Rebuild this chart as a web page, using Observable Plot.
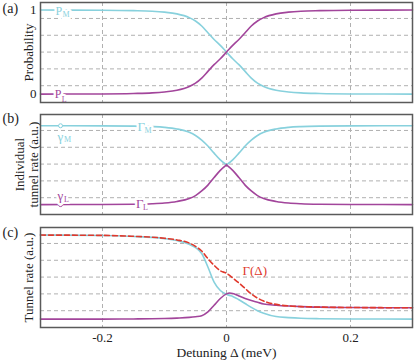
<!DOCTYPE html>
<html>
<head>
<meta charset="utf-8">
<script src="https://cdn.jsdelivr.net/npm/d3@7"></script>
<script src="https://cdn.jsdelivr.net/npm/@observablehq/plot@0.6"></script>
<style>
  html, body { margin: 0; padding: 0; background: #fff; }
  #chart { position: relative; width: 415px; height: 361px; overflow: hidden; }
  .panel { position: absolute; left: 0; }
  #chart svg, #chart svg text { font-family: "Liberation Serif", "Times New Roman", serif !important; }
</style>
</head>
<body>
<div id="chart"></div>
<script>
// ---------- data ----------
const detuning = [-0.3,-0.2,-0.15,-0.12,-0.1,-0.08,-0.06,-0.05,-0.04,-0.03,-0.02,-0.01,0,0.01,0.02,0.03,0.04,0.05,0.06,0.08,0.1,0.12,0.15,0.2,0.3];
// (a) probabilities
const probM = [1.0,0.998,0.993,0.986,0.975,0.955,0.91,0.87,0.81,0.73,0.65,0.58,0.5,0.42,0.35,0.27,0.19,0.13,0.09,0.045,0.025,0.014,0.007,0.002,0.0];
const probL = [0.0,0.002,0.007,0.014,0.025,0.045,0.09,0.13,0.19,0.27,0.35,0.42,0.5,0.58,0.65,0.73,0.81,0.87,0.91,0.955,0.975,0.986,0.993,0.998,1.0];
// (b) individual tunnel rates
const rateM = [0.956,0.955,0.952,0.946,0.937,0.918,0.878,0.84,0.785,0.715,0.63,0.55,0.49,0.55,0.63,0.715,0.785,0.84,0.878,0.918,0.937,0.946,0.952,0.955,0.956];
const rateL = [0.018,0.019,0.022,0.028,0.037,0.055,0.09,0.125,0.18,0.25,0.34,0.425,0.49,0.425,0.34,0.25,0.18,0.125,0.09,0.055,0.037,0.028,0.022,0.019,0.018];
// (c) tunnel rates
const detuningC = [-0.3,-0.2,-0.15,-0.12,-0.1,-0.08,-0.06,-0.05,-0.04,-0.03,-0.02,-0.01,0,0.005,0.01,0.02,0.03,0.04,0.05,0.06,0.08,0.1,0.12,0.15,0.2,0.3];
const tunnelM = [1.0,0.995,0.983,0.972,0.958,0.935,0.89,0.85,0.78,0.62,0.44,0.34,0.295,0.282,0.27,0.23,0.185,0.14,0.1,0.07,0.03,0.018,0.01,0.005,0.002,0.0];
const tunnelL = [0.0,0.0,0.002,0.004,0.007,0.012,0.02,0.028,0.04,0.085,0.165,0.245,0.3,0.31,0.305,0.275,0.245,0.22,0.2,0.18,0.165,0.155,0.148,0.142,0.138,0.135];
const tunnelTotal = [1.0,0.996,0.985,0.975,0.962,0.942,0.905,0.865,0.81,0.72,0.64,0.575,0.545,0.52,0.49,0.43,0.365,0.3,0.25,0.215,0.175,0.157,0.149,0.143,0.138,0.135];
const xTicks = [-0.2, 0, 0.2];
const gridValues = [0.1, 0.3, 0.5, 0.7, 0.9];
const probTicks = [0, 1];

// ---------- styles ----------
const CYAN = "#88d1dd";
const MAG = "#a2459b";
const RED = "#e0382c";
const FONT = "'Liberation Serif', 'Times New Roman', serif";

const rowsA = detuning.map((d, i) => ({d, M: probM[i], L: probL[i]}));
const rowsB = detuning.map((d, i) => ({d, M: rateM[i], L: rateL[i]}));
// split at the cusp (Δ = 0) so each half is smoothed separately
const rowsBall = [
  ...rowsB.filter(r => r.d <= 0).map(r => ({...r, side: "l"})),
  ...rowsB.filter(r => r.d >= 0).map(r => ({...r, side: "r"}))
];
const rowsC = detuningC.map((d, i) => ({d, M: tunnelM[i], L: tunnelL[i], T: tunnelTotal[i]}));

function sublabel(x, y, main, sub, color, o = {}) {
  const fs = o.fontSize ?? 12, sfs = o.subSize ?? 8, sdx = o.sdx ?? 7, sdy = o.sdy ?? 4, dy = o.dy ?? 0;
  const common = {x: () => x, y: () => y, textAnchor: "start", lineAnchor: "middle", fontFamily: FONT};
  const d = [0];
  return [
    Plot.text(d, {...common, text: () => main, fontSize: fs, dy, fill: "white", stroke: "white", strokeWidth: 5}),
    Plot.text(d, {...common, text: () => sub, fontSize: sfs, dx: sdx, dy: dy + sdy, fill: "white", stroke: "white", strokeWidth: 4}),
    Plot.text(d, {...common, text: () => main, fontSize: fs, dy, fill: color}),
    Plot.text(d, {...common, text: () => sub, fontSize: sfs, dx: sdx, dy: dy + sdy, fill: color})
  ];
}

const base = {
  width: 415,
  marginLeft: 40,
  marginRight: 3,
  marginTop: 2,
  style: {fontFamily: FONT, fontSize: "13px", background: "transparent", overflow: "visible"}
};
const grids = () => [
  Plot.gridY(gridValues, {stroke: "#b0b0b0", strokeOpacity: 1, strokeDasharray: "4,3", strokeWidth: 1}),
  Plot.gridX(xTicks, {stroke: "#b0b0b0", strokeOpacity: 1, strokeDasharray: "4,3", strokeWidth: 1})
];
const frame = () => Plot.frame({stroke: "#5a5a5a", strokeWidth: 1.5});
const panelLabel = (t, dy) => Plot.text([t], {frameAnchor: "top-left", dx: -38, dy, text: d => d, textAnchor: "start", lineAnchor: "middle", fontSize: 14, fontFamily: FONT, fill: "#222"});
const yTitle = (t, dx) => Plot.text([t], {frameAnchor: "left", dx, text: d => d, rotate: -90, textAnchor: "middle", lineAnchor: "middle", fontSize: 13, fontFamily: FONT, fill: "#222"});

// ---------- panel (a) ----------
const plotA = Plot.plot({
  ...base,
  height: 104,
  marginBottom: 2,
  x: {domain: [-0.3, 0.3], axis: null},
  y: {domain: [-0.1, 1.09]},
  marks: [
    ...grids(),
    Plot.line(rowsA, {x: "d", y: "M", stroke: CYAN, strokeWidth: 1.6, curve: "monotone-x"}),
    Plot.line(rowsA, {x: "d", y: "L", stroke: MAG, strokeWidth: 1.6, curve: "monotone-x"}),
    ...sublabel(-0.276, 1, "P", "M", CYAN, {dy: 1.5, sdy: 3}),
    ...sublabel(-0.277, 0, "P", "L", MAG, {dy: 0, sdy: 5}),
    Plot.axisY(probTicks, {tickSize: 0, tickPadding: 4, fontSize: 13, fontFamily: FONT, fill: "#222", label: null, tickFormat: d => String(d)}),
    yTitle("Probability", -12),
    panelLabel("(a)", 6),
    frame()
  ]
});

// ---------- panel (b) ----------
const plotB = Plot.plot({
  ...base,
  height: 104,
  marginBottom: 2,
  x: {domain: [-0.3, 0.3], axis: null},
  y: {domain: [-0.1, 1.09], axis: null},
  marks: [
    ...grids(),
    Plot.line(rowsBall, {x: "d", y: "M", z: "side", stroke: CYAN, strokeWidth: 1.6, curve: "monotone-x"}),
    Plot.line(rowsBall, {x: "d", y: "L", z: "side", stroke: MAG, strokeWidth: 1.6, curve: "monotone-x"}),
    Plot.dot([rateM[0]], {x: () => -0.2677, y: d => d, r: 2, fill: "white", stroke: CYAN, strokeWidth: 1}),
    Plot.dot([rateL[0]], {x: () => -0.2677, y: d => d, r: 2, fill: "white", stroke: MAG, strokeWidth: 1}),
    ...sublabel(-0.2725, 0.83, "γ", "M", CYAN, {fontSize: 13, sdx: 6.5, sdy: 3}),
    ...sublabel(-0.2725, 0.12, "γ", "L", MAG, {fontSize: 13, sdx: 6.5, sdy: 3}),
    ...sublabel(-0.1435, rateM[0], "Γ", "M", CYAN, {fontSize: 13, sdx: 7, sdy: 4, dy: 1}),
    ...sublabel(-0.146, rateL[0], "Γ", "L", MAG, {fontSize: 13, sdx: 7, sdy: 4, dy: -1}),
    yTitle("Individual", -20.5),
    yTitle("tunnel rate (a.u.)", -7),
    panelLabel("(b)", 4),
    frame()
  ]
});

// ---------- panel (c) ----------
const plotC = Plot.plot({
  ...base,
  height: 136,
  marginBottom: 34,
  x: {domain: [-0.3, 0.3]},
  y: {domain: [-0.1, 1.09], axis: null},
  marks: [
    ...grids(),
    Plot.line(rowsC, {x: "d", y: "M", stroke: CYAN, strokeWidth: 1.6, curve: "monotone-x"}),
    Plot.line(rowsC, {x: "d", y: "L", stroke: MAG, strokeWidth: 1.6, curve: "monotone-x"}),
    Plot.line(rowsC, {x: "d", y: "T", stroke: RED, strokeWidth: 1.6, strokeDasharray: "5,3", curve: "monotone-x"}),
    Plot.text(["Γ(Δ)"], {x: () => 0.0258, y: () => 0.578, text: d => d, textAnchor: "start", lineAnchor: "middle", fontSize: 13, fontFamily: FONT, fill: RED}),
    Plot.axisX(xTicks, {tickSize: 0, tickPadding: 5, fontSize: 13, fontFamily: FONT, fill: "#222", label: null,
      tickFormat: d => d === 0 ? "0" : (d < 0 ? "-" : "") + Math.abs(d).toFixed(1)}),
    Plot.text(["Detuning Δ (meV)"], {frameAnchor: "bottom", dy: 25, text: d => d, textAnchor: "middle", lineAnchor: "middle", fontSize: 13.5, fontFamily: FONT, fill: "#222"}),
    yTitle("Tunnel rate (a.u.)", -12),
    panelLabel("(c)", 5),
    frame()
  ]
});

const chart = document.getElementById("chart");
[[plotA, 0], [plotB, 112], [plotC, 225]].forEach(([p, top]) => {
  const div = document.createElement("div");
  div.className = "panel";
  div.style.top = top + "px";
  div.appendChild(p);
  chart.appendChild(div);
});
</script>
</body>
</html>
